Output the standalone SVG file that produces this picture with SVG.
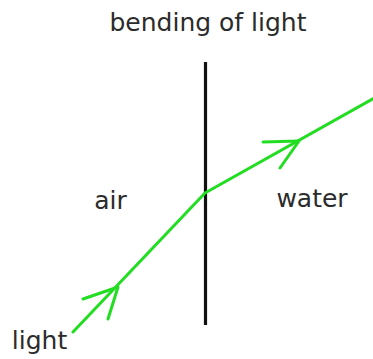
<svg xmlns="http://www.w3.org/2000/svg" width="373" height="359" viewBox="0 0 373 359">
<style>
.t{font-family:"DejaVu Sans",Verdana,sans-serif;font-size:25px;fill:#2b2b2b}
.ray{fill:none;stroke:#22dd22;stroke-width:3;stroke-linecap:round;stroke-linejoin:round}
.bd{stroke:#111;stroke-width:3.2;stroke-linecap:butt}
</style>
<rect width="373" height="359" fill="#fff"/>
<g id="title"><text class="t" x="208" y="31" text-anchor="middle">bending of light</text></g>
<g id="boundary"><line class="bd" x1="205.5" y1="62" x2="205.5" y2="325"/></g>
<g id="air"><text class="t" x="110.5" y="209" text-anchor="middle">air</text></g>
<g id="water"><text class="t" x="312" y="207" text-anchor="middle">water</text></g>
<g id="light"><text class="t" x="39.5" y="349" text-anchor="middle">light</text></g>
<g id="connectors">
<polyline class="ray" points="73,332 205,193 376,97"/>
<polyline class="ray" points="83,299 118,287 108,319"/>
<polyline class="ray" points="263,142 299,141 280,168"/>
</g>
</svg>
